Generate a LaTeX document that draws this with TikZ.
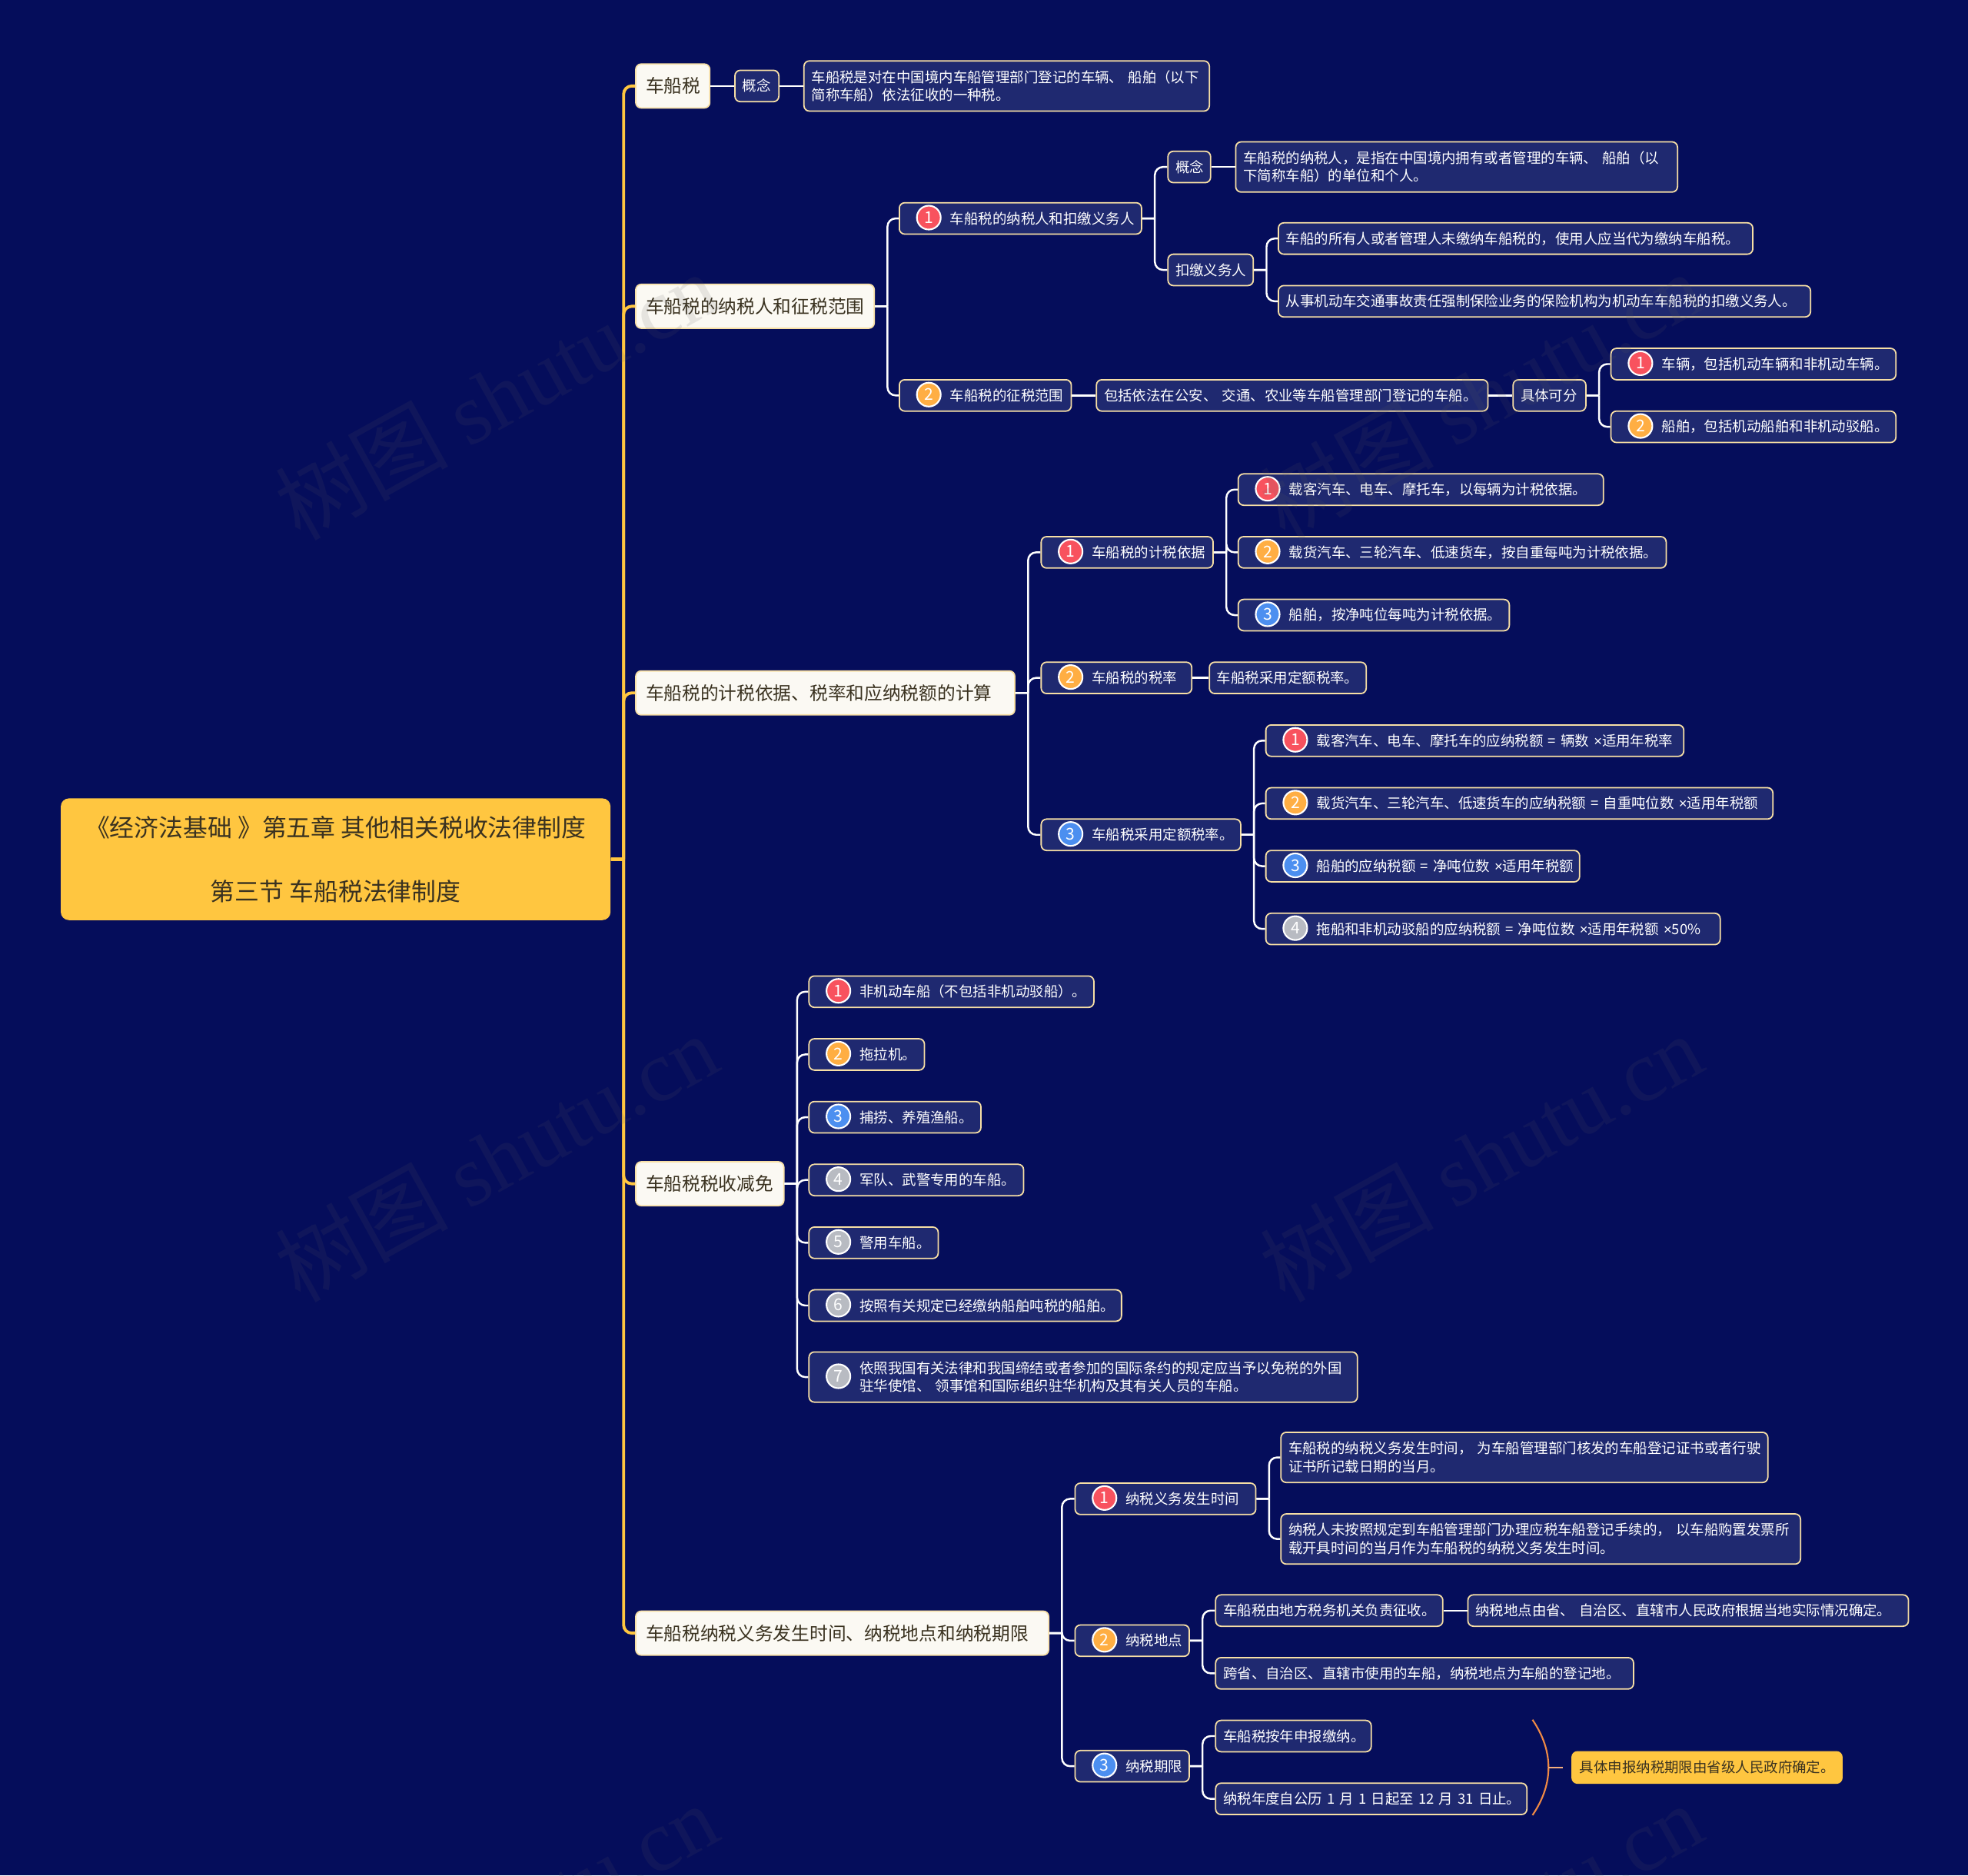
\documentclass[tikz,border=0pt]{standalone}
\usepackage{fontspec}
\setmainfont{Noto Sans CJK SC}
\newfontfamily\markfont{Liberation Serif}
\newfontfamily\latinfont{Liberation Sans}
\usetikzlibrary{positioning,calc}
\newlength{\pxu}
\setlength{\pxu}{0.4629pt}
\definecolor{pagenavy}{HTML}{050D5B}
\definecolor{leafblue}{HTML}{1F2970}
\definecolor{edgecream}{HTML}{F7DFA5}
\definecolor{rootgold}{HTML}{FFC640}
\definecolor{inkdark}{HTML}{3A3220}
\definecolor{topicwhite}{HTML}{FBF9F3}
\definecolor{arcorange}{HTML}{F08A45}
\definecolor{markgray}{HTML}{5A5A60}
\definecolor{badge1}{HTML}{F8525E}
\definecolor{badge2}{HTML}{FFAE43}
\definecolor{badge3}{HTML}{4C8FF0}
\definecolor{badge4}{HTML}{B8BBC2}
\colorlet{badge5}{badge4}
\colorlet{badge6}{badge4}
\colorlet{badge7}{badge4}
\tikzset{
    leaf/.style={draw=edgecream, fill=leafblue, text=white, rounded corners=2pt, line width=0.5pt, anchor=west,
        inner xsep=6*\pxu, inner ysep=1pt, minimum height=25*\pxu, text width=#1*\pxu-12*\pxu, align=left,
        font=\fontsize{5.23}{6.7}\selectfont},
    numleaf/.style={leaf=#1, execute at begin node={\leftskip=34.4\pxu}},
    tall/.style={minimum height=40*\pxu},
    topic/.style={draw=edgecream, fill=topicwhite, text=inkdark, rounded corners=2pt, line width=0.5pt, anchor=west,
        inner xsep=8*\pxu, inner ysep=1pt, minimum height=35*\pxu, text width=#1*\pxu-16*\pxu, align=left,
        font=\fontsize{6.72}{8}\selectfont},
    badge/.style={circle, draw=white, line width=0.6pt, inner sep=0pt, minimum size=19*\pxu, text=white,
        font=\fontsize{6}{7}\selectfont},
    link/.style={draw=white, line width=0.7pt, rounded corners=3pt},
    trunk/.style={draw=rootgold, line width=1.1pt, rounded corners=3pt},
    arcline/.style={draw=arcorange, line width=0.6pt},
    watermark/.style={text=markgray, text opacity=0.13, rotate=29, inner sep=0pt,
        font=\fontsize{32}{37}\selectfont},
}
\begin{document}
\begin{tikzpicture}[x=\pxu,y=-\pxu]
            \fill[pagenavy] (0,0) rectangle (1568,1494);
            \useasboundingbox (0,0) rectangle (1568,1494);
            \node[anchor=west, fill=rootgold, text=inkdark, rounded corners=3pt, minimum width=438*\pxu, minimum height=97*\pxu,
                inner sep=0pt, align=center, font=\fontsize{9.03}{23.6}\selectfont] (root) at (48,684.5)
                {《经济法基础~》第五章~其他相关税收法律制度\\第三节~车船税法律制度};
            % first level
            \node[topic=59] (tax) at (506,68.5) {车船税};
            \node[topic=190] (sub) at (506,244) {车船税的纳税人和征税范围};
            \node[topic=302] (base) at (506,552) {车船税的计税依据、税率和应纳税额的计算};
            \node[topic=118] (rel) at (506,943) {车船税税收减免};
            \node[topic=329] (time) at (506,1301) {车船税纳税义务发生时间、纳税地点和纳税期限};
            % tax
            \node[leaf=35] (taxcon) at (585,68.5) {概念};
            \node[leaf=323, tall] (taxdef) at (640,68.5) {车船税是对在中国境内车船管理部门登记的车辆、~船舶（以下\\简称车船）依法征收的一种税。};
            % sub
            \node[numleaf=193] (sub1) at (716,174) {车船税的纳税人和扣缴义务人};
            \node[leaf=34] (sub1con) at (930,133) {概念};
            \node[leaf=352, tall] (sub1def) at (984,133) {车船税的纳税人，是指在中国境内拥有或者管理的车辆、~船舶（以\\下简称车船）的单位和个人。};
            \node[leaf=68] (sub1wh) at (930,215) {扣缴义务人};
            \node[leaf=378] (sub1wha) at (1018,190) {车船的所有人或者管理人未缴纳车船税的，使用人应当代为缴纳车船税。};
            \node[leaf=424] (sub1whb) at (1018,240) {从事机动车交通事故责任强制保险业务的保险机构为机动车车船税的扣缴义务人。};
            \node[numleaf=137] (sub2) at (716,315) {车船税的征税范围};
            \node[leaf=312] (sub2inc) at (873,315) {包括依法在公安、~交通、农业等车船管理部门登记的车船。};
            \node[leaf=58] (sub2kind) at (1205,315) {具体可分};
            \node[numleaf=227] (sub2kinda) at (1283,290) {车辆，包括机动车辆和非机动车辆。};
            \node[numleaf=227] (sub2kindb) at (1283,340) {船舶，包括机动船舶和非机动驳船。};
            % base
            \node[numleaf=137] (base1) at (829,440) {车船税的计税依据};
            \node[numleaf=291] (base1a) at (986,390) {载客汽车、电车、摩托车，以每辆为计税依据。};
            \node[numleaf=341] (base1b) at (986,440) {载货汽车、三轮汽车、低速货车，按自重每吨为计税依据。};
            \node[numleaf=216] (base1c) at (986,490) {船舶，按净吨位每吨为计税依据。};
            \node[numleaf=120] (base2) at (829,540) {车船税的税率};
            \node[leaf=125] (base2a) at (963,540) {车船税采用定额税率。};
            \node[numleaf=159] (base3) at (829,665) {车船税采用定额税率。};
            \node[numleaf=333] (base3a) at (1008,590) {载客汽车、电车、摩托车的应纳税额~=~辆数~{\latinfont ×}适用年税率};
            \node[numleaf=404] (base3b) at (1008,640) {载货汽车、三轮汽车、低速货车的应纳税额~=~自重吨位数~{\latinfont ×}适用年税额};
            \node[numleaf=250] (base3c) at (1008,690) {船舶的应纳税额~=~净吨位数~{\latinfont ×}适用年税额};
            \node[numleaf=362] (base3d) at (1008,740) {拖船和非机动驳船的应纳税额~=~净吨位数~{\latinfont ×}适用年税额~{\latinfont ×}50\%};
            % rel
            \node[numleaf=227] (rel1) at (644,790) {非机动车船（不包括非机动驳船）。};
            \node[numleaf=92] (rel2) at (644,840) {拖拉机。};
            \node[numleaf=137] (rel3) at (644,890) {捕捞、养殖渔船。};
            \node[numleaf=171] (rel4) at (644,940) {军队、武警专用的车船。};
            \node[numleaf=103] (rel5) at (644,990) {警用车船。};
            \node[numleaf=249] (rel6) at (644,1040) {按照有关规定已经缴纳船舶吨税的船舶。};
            \node[numleaf=437, tall] (rel7) at (644,1097) {依照我国有关法律和我国缔结或者参加的国际条约的规定应当予以免税的外国\\驻华使馆、~领事馆和国际组织驻华机构及其有关人员的车船。};
            % time
            \node[numleaf=144] (time1) at (856,1194) {纳税义务发生时间};
            \node[leaf=388, tall] (time1a) at (1020,1161) {车船税的纳税义务发生时间，~为车船管理部门核发的车船登记证书或者行驶\\证书所记载日期的当月。};
            \node[leaf=414, tall] (time1b) at (1020,1226) {纳税人未按照规定到车船管理部门办理应税车船登记手续的，~以车船购置发票所\\载开具时间的当月作为车船税的纳税义务发生时间。};
            \node[numleaf=91] (time2) at (856,1307) {纳税地点};
            \node[leaf=181] (time2a) at (968,1283) {车船税由地方税务机关负责征收。};
            \node[leaf=351] (time2ax) at (1169,1283) {纳税地点由省、~自治区、直辖市人民政府根据当地实际情况确定。};
            \node[leaf=333] (time2b) at (968,1333) {跨省、自治区、直辖市使用的车船，纳税地点为车船的登记地。};
            \node[numleaf=91] (time3) at (856,1407) {纳税期限};
            \node[leaf=124] (time3a) at (968,1383) {车船税按年申报缴纳。};
            \node[leaf=248] (time3b) at (968,1433) {纳税年度自公历~1~月~1~日起至~12~月~31~日止。};
            \node[leaf=215, draw=rootgold, fill=rootgold, text=inkdark] (timenote) at (1252,1408) {具体申报纳税期限由省级人民政府确定。};
            % badges
            \foreach \n/\k in {sub1/1,sub2/2,sub2kinda/1,sub2kindb/2,base1/1,base1a/1,base1b/2,base1c/3,base2/2,base3/3,
                base3a/1,base3b/2,base3c/3,base3d/4,rel1/1,rel2/2,rel3/3,rel4/4,rel5/5,rel6/6,rel7/7,time1/1,time2/2,time3/3}
                \node[badge, fill=badge\k] (\n-badge) at ([xshift=24*\pxu,yshift=0.3pt]\n.west) {\k};
            % connectors
            \foreach \b in {tax,sub,base,rel,time}
                \draw[trunk] (root.east) -- ++(10,0) ++(0,0) |- (\b.west);
            \foreach \a/\b in {sub/sub1,sub/sub2,sub1/sub1con,sub1/sub1wh,sub1wh/sub1wha,sub1wh/sub1whb,sub2kind/sub2kinda,sub2kind/sub2kindb,
                base/base1,base/base2,base/base3,base1/base1a,base1/base1b,base1/base1c,base3/base3a,base3/base3b,base3/base3c,base3/base3d,
                rel/rel1,rel/rel2,rel/rel3,rel/rel4,rel/rel5,rel/rel6,rel/rel7,
                time/time1,time/time2,time/time3,time1/time1a,time1/time1b,time2/time2a,time2/time2b,time3/time3a,time3/time3b}
                \draw[link] (\a.east) -- ++(10,0) ++(0,0) |- (\b.west);
            \foreach \a/\b in {tax/taxcon,taxcon/taxdef,sub1con/sub1def,sub2/sub2inc,sub2inc/sub2kind,base2/base2a,time2a/time2ax}
                \draw[link] (\a.east) -- (\b.west);
            % arc beside the last two leaves
            \coordinate (arctop) at (1221,1370);
            \coordinate (arcbot) at (1221,1446);
            \coordinate (arcmid) at (1233.5,1408);
            \coordinate (arctip) at (1245,1408);
            \draw[arcline] (arctop) .. controls (1238,1395) and (1238,1421) .. (arcbot);
            \draw[draw=arcorange!70!white, line width=0.7pt] (arcmid) -- (arctip);
            % watermarks
            \foreach \x/\y/\m in {395/315/a,1180/315/b,395/922/c,1180/922/d,395/1535/e,1180/1535/f}
                \node[watermark] (mark\m) at (\x,\y) {树图~{\markfont shutu.cn}};
\end{tikzpicture}
\end{document}
